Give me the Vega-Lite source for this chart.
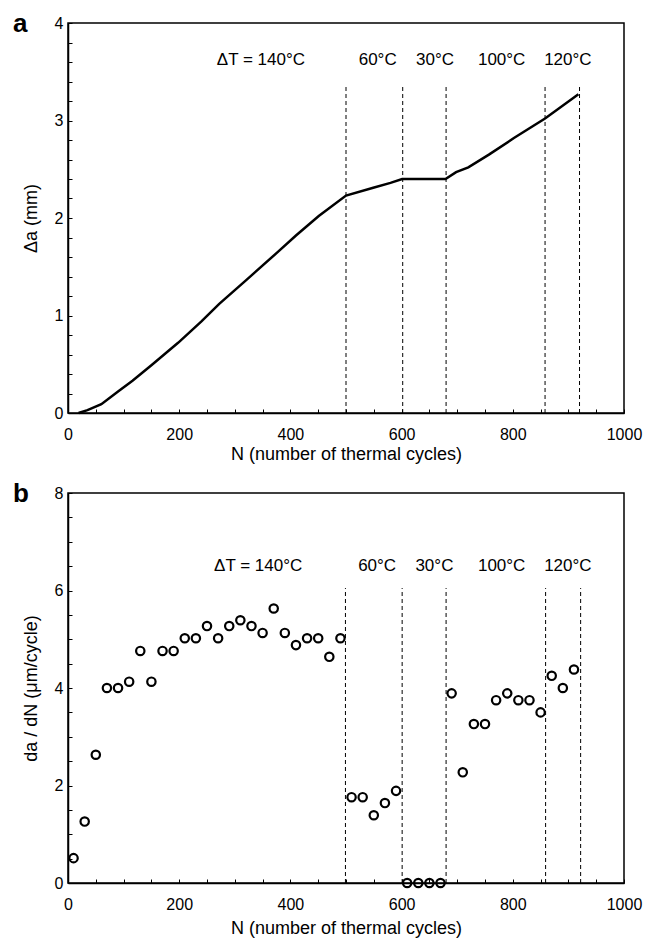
{
  "$schema": "https://vega.github.io/schema/vega-lite/v6.json",
  "background": "white",
  "padding": {"left": 12, "top": 10, "right": 5, "bottom": 5},
  "config": {
    "font": "Liberation Sans",
    "view": {"stroke": "black", "strokeWidth": 1.5},
    "axis": {
      "domainColor": "black",
      "domainWidth": 1.5,
      "tickColor": "black",
      "tickSize": -4,
      "tickWidth": 1,
      "tickCount": 100,
      "labelColor": "black",
      "labelFont": "Liberation Sans",
      "labelFontSize": 16,
      "labelOverlap": false,
      "titleFont": "Liberation Sans",
      "titleFontSize": 18,
      "titleFontWeight": "normal",
      "titleColor": "black",
      "grid": false
    },
    "title": {"font": "Liberation Sans", "fontSize": 26, "fontWeight": "bold", "color": "black"}
  },
  "datasets": {
    "curve": [
      {"N": 19, "da": 0.0},
      {"N": 35, "da": 0.03},
      {"N": 60, "da": 0.09},
      {"N": 90, "da": 0.22},
      {"N": 116, "da": 0.33},
      {"N": 150, "da": 0.49},
      {"N": 198, "da": 0.72},
      {"N": 240, "da": 0.94},
      {"N": 272, "da": 1.12},
      {"N": 320, "da": 1.36},
      {"N": 377, "da": 1.65},
      {"N": 410, "da": 1.82},
      {"N": 451, "da": 2.02},
      {"N": 500, "da": 2.23},
      {"N": 549, "da": 2.31},
      {"N": 580, "da": 2.36},
      {"N": 601, "da": 2.40},
      {"N": 679, "da": 2.40},
      {"N": 698, "da": 2.47},
      {"N": 720, "da": 2.52},
      {"N": 757, "da": 2.65},
      {"N": 802, "da": 2.82},
      {"N": 858, "da": 3.02},
      {"N": 918, "da": 3.27}
    ],
    "rate": [
      {"N": 10, "r": 0.51}, {"N": 30, "r": 1.26}, {"N": 50, "r": 2.63}, {"N": 70, "r": 4.0},
      {"N": 90, "r": 4.0}, {"N": 110, "r": 4.13}, {"N": 130, "r": 4.76}, {"N": 150, "r": 4.13},
      {"N": 170, "r": 4.76}, {"N": 190, "r": 4.76}, {"N": 210, "r": 5.02}, {"N": 230, "r": 5.02},
      {"N": 250, "r": 5.27}, {"N": 270, "r": 5.02}, {"N": 290, "r": 5.27}, {"N": 310, "r": 5.39},
      {"N": 330, "r": 5.27}, {"N": 350, "r": 5.13}, {"N": 370, "r": 5.63}, {"N": 390, "r": 5.13},
      {"N": 410, "r": 4.88}, {"N": 430, "r": 5.02}, {"N": 450, "r": 5.02}, {"N": 470, "r": 4.64},
      {"N": 490, "r": 5.02}, {"N": 510, "r": 1.76}, {"N": 530, "r": 1.76}, {"N": 550, "r": 1.39},
      {"N": 570, "r": 1.64}, {"N": 590, "r": 1.89}, {"N": 610, "r": 0}, {"N": 630, "r": 0},
      {"N": 650, "r": 0}, {"N": 670, "r": 0}, {"N": 690, "r": 3.89}, {"N": 710, "r": 2.27},
      {"N": 730, "r": 3.26}, {"N": 750, "r": 3.26}, {"N": 770, "r": 3.75}, {"N": 790, "r": 3.89},
      {"N": 810, "r": 3.75}, {"N": 830, "r": 3.75}, {"N": 850, "r": 3.5}, {"N": 870, "r": 4.25},
      {"N": 890, "r": 4.0}, {"N": 910, "r": 4.38}
    ],
    "dividersA": [
      {"N": 500, "y1": 0, "y2": 3.37}, {"N": 602, "y1": 0, "y2": 3.37}, {"N": 680, "y1": 0, "y2": 3.37},
      {"N": 858, "y1": 0, "y2": 3.37}, {"N": 920, "y1": 0, "y2": 3.37}
    ],
    "dividersB": [
      {"N": 499, "y1": 0, "y2": 6.05}, {"N": 601, "y1": 0, "y2": 6.05}, {"N": 680, "y1": 0, "y2": 6.05},
      {"N": 859, "y1": 0, "y2": 6.05}, {"N": 922, "y1": 0, "y2": 6.05}
    ],
    "labelsA": [
      {"N": 347, "y": 3.62, "label": "ΔT = 140°C"},
      {"N": 557, "y": 3.62, "label": "60°C"},
      {"N": 660, "y": 3.62, "label": "30°C"},
      {"N": 780, "y": 3.62, "label": "100°C"},
      {"N": 899, "y": 3.62, "label": "120°C"}
    ],
    "labelsB": [
      {"N": 342, "y": 6.5, "label": "ΔT = 140°C"},
      {"N": 556, "y": 6.5, "label": "60°C"},
      {"N": 659, "y": 6.5, "label": "30°C"},
      {"N": 780, "y": 6.5, "label": "100°C"},
      {"N": 899, "y": 6.5, "label": "120°C"}
    ]
  },
  "vconcat": [
    {
      "width": 556,
      "height": 390,
      "title": {"text": "a", "anchor": "start", "frame": "bounds", "dx": -9, "offset": -22},
      "layer": [
        {
          "data": {"name": "dividersA"},
          "mark": {"type": "rule", "strokeDash": [4, 3], "strokeWidth": 1, "color": "black"},
          "encoding": {
            "x": {"field": "N", "type": "quantitative", "scale": {"domain": [0, 1000], "nice": false}},
            "y": {"field": "y1", "type": "quantitative"},
            "y2": {"field": "y2"}
          }
        },
        {
          "data": {"name": "curve"},
          "mark": {"type": "line", "color": "black", "strokeWidth": 2.5},
          "encoding": {
            "x": {"field": "N", "type": "quantitative", "scale": {"domain": [0, 1000], "nice": false},
              "axis": {"title": "N  (number of thermal cycles)",
                "values": [0,50,100,150,200,250,300,350,400,450,500,550,600,650,700,750,800,850,900,950,1000],
                "labelExpr": "datum.value % 200 == 0 ? format(datum.value, 'd') : ''", "labelFlush": false,
                "tickCount": 100, "labelOverlap": false, "labelPadding": 17, "titlePadding": 3}},
            "y": {"field": "da", "type": "quantitative", "scale": {"domain": [0, 4], "nice": false},
              "axis": {"title": "Δa (mm)",
                "values": [0,0.2,0.4,0.6,0.8,1,1.2,1.4,1.6,1.8,2,2.2,2.4,2.6,2.8,3,3.2,3.4,3.6,3.8,4],
                "labelExpr": "abs(datum.value - round(datum.value)) < 0.001 ? format(round(datum.value), 'd') : ''",
                "tickCount": 100, "labelOverlap": false, "labelPadding": 9, "titlePadding": 14}}
          }
        },
        {
          "data": {"name": "labelsA"},
          "mark": {"type": "text", "fontSize": 17, "color": "black", "font": "Liberation Sans"},
          "encoding": {
            "x": {"field": "N", "type": "quantitative"},
            "y": {"field": "y", "type": "quantitative"},
            "text": {"field": "label"}
          }
        }
      ]
    },
    {
      "width": 556,
      "height": 390,
      "title": {"text": "b", "anchor": "start", "frame": "bounds", "dx": -9, "offset": -22},
      "layer": [
        {
          "data": {"name": "dividersB"},
          "mark": {"type": "rule", "strokeDash": [4, 3], "strokeWidth": 1, "color": "black"},
          "encoding": {
            "x": {"field": "N", "type": "quantitative", "scale": {"domain": [0, 1000], "nice": false}},
            "y": {"field": "y1", "type": "quantitative"},
            "y2": {"field": "y2"}
          }
        },
        {
          "data": {"name": "rate"},
          "mark": {"type": "point", "shape": "circle", "filled": false, "color": "black", "strokeWidth": 2.2, "size": 70, "opacity": 1},
          "encoding": {
            "x": {"field": "N", "type": "quantitative", "scale": {"domain": [0, 1000], "nice": false},
              "axis": {"title": "N (number of thermal cycles)",
                "values": [0,50,100,150,200,250,300,350,400,450,500,550,600,650,700,750,800,850,900,950,1000],
                "labelExpr": "datum.value % 200 == 0 ? format(datum.value, 'd') : ''", "labelFlush": false,
                "tickCount": 100, "labelOverlap": false, "labelPadding": 17, "titlePadding": 7}},
            "y": {"field": "r", "type": "quantitative", "scale": {"domain": [0, 8], "nice": false},
              "axis": {"title": "da / dN (μm/cycle)",
                "values": [0,0.5,1,1.5,2,2.5,3,3.5,4,4.5,5,5.5,6,6.5,7,7.5,8],
                "labelExpr": "datum.value % 2 == 0 ? format(datum.value, 'd') : ''",
                "tickCount": 100, "labelOverlap": false, "labelPadding": 9, "titlePadding": 14}}
          }
        },
        {
          "data": {"name": "labelsB"},
          "mark": {"type": "text", "fontSize": 17, "color": "black", "font": "Liberation Sans"},
          "encoding": {
            "x": {"field": "N", "type": "quantitative"},
            "y": {"field": "y", "type": "quantitative"},
            "text": {"field": "label"}
          }
        }
      ]
    }
  ],
  "spacing": 16
}
